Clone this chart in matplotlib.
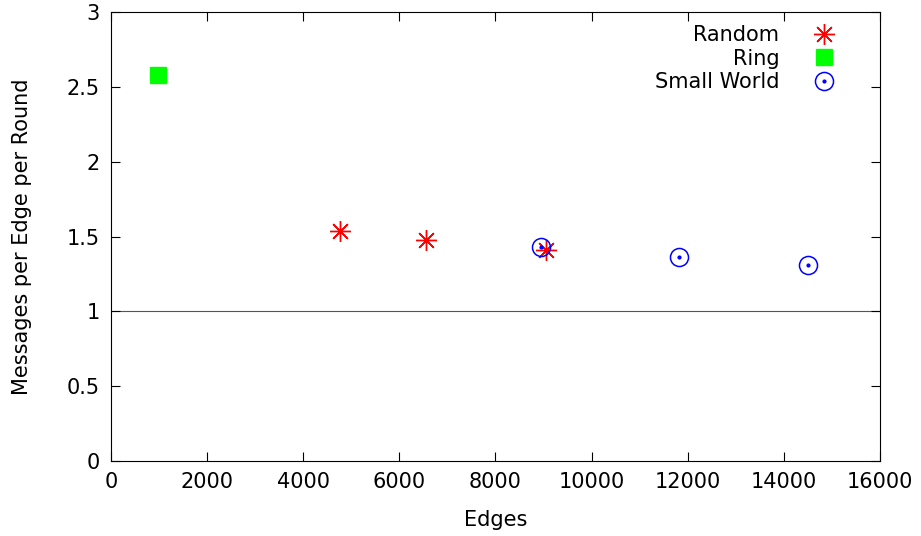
import matplotlib.pyplot as plt
from matplotlib.lines import Line2D

random_x = [4760, 6550, 9050]
random_y = [1.54, 1.48, 1.41]
ring_x = [980]
ring_y = [2.58]
sw_x = [8950, 11820, 14500]
sw_y = [1.43, 1.36, 1.31]

fig = plt.figure(figsize=(9.21, 5.36), dpi=100)
ax = fig.add_axes([0.1205, 0.140, 0.835, 0.8375])

ax.axhline(1, color='#555555', lw=0.8, zorder=1)

star = dict(linestyle='none', marker=(8, 2, 0), ms=15, mew=1.0, color='red')
square = dict(linestyle='none', marker='s', ms=12, color='#00ff00', mec='#00ff00')
circ = dict(linestyle='none', marker='o', ms=13, mfc='none', mew=1.1, color='blue')
dot = dict(linestyle='none', marker='o', ms=2, color='blue')

ax.plot(random_x, random_y, **star)
ax.plot(ring_x, ring_y, **square)
ax.plot(sw_x, sw_y, **circ)
ax.plot(sw_x, sw_y, **dot)

handles = [Line2D([], [], **star), Line2D([], [], **square),
           (Line2D([], [], **circ), Line2D([], [], **dot))]
ax.legend(handles, ['Random', 'Ring', 'Small World'],
          loc='upper right', frameon=False, markerfirst=False, fontsize=15,
          handlelength=1.5, handletextpad=1.37, labelspacing=0.17,
          borderpad=0, borderaxespad=0, bbox_to_anchor=(0.947, 0.971))

ax.set_xlim(0, 16000)
ax.set_ylim(0, 3)
ax.set_xticks(range(0, 16001, 2000))
ax.set_yticks([0, 0.5, 1, 1.5, 2, 2.5, 3])
ax.set_yticklabels(['0', '0.5', '1', '1.5', '2', '2.5', '3'])
ax.tick_params(direction='in', top=True, right=True, labelsize=15, length=6.5, pad=8)
ax.set_xlabel('Edges', fontsize=15, labelpad=13)
ax.set_ylabel('Messages per Edge per Round', fontsize=15, labelpad=25)

fig.savefig('out.png', dpi=100)
